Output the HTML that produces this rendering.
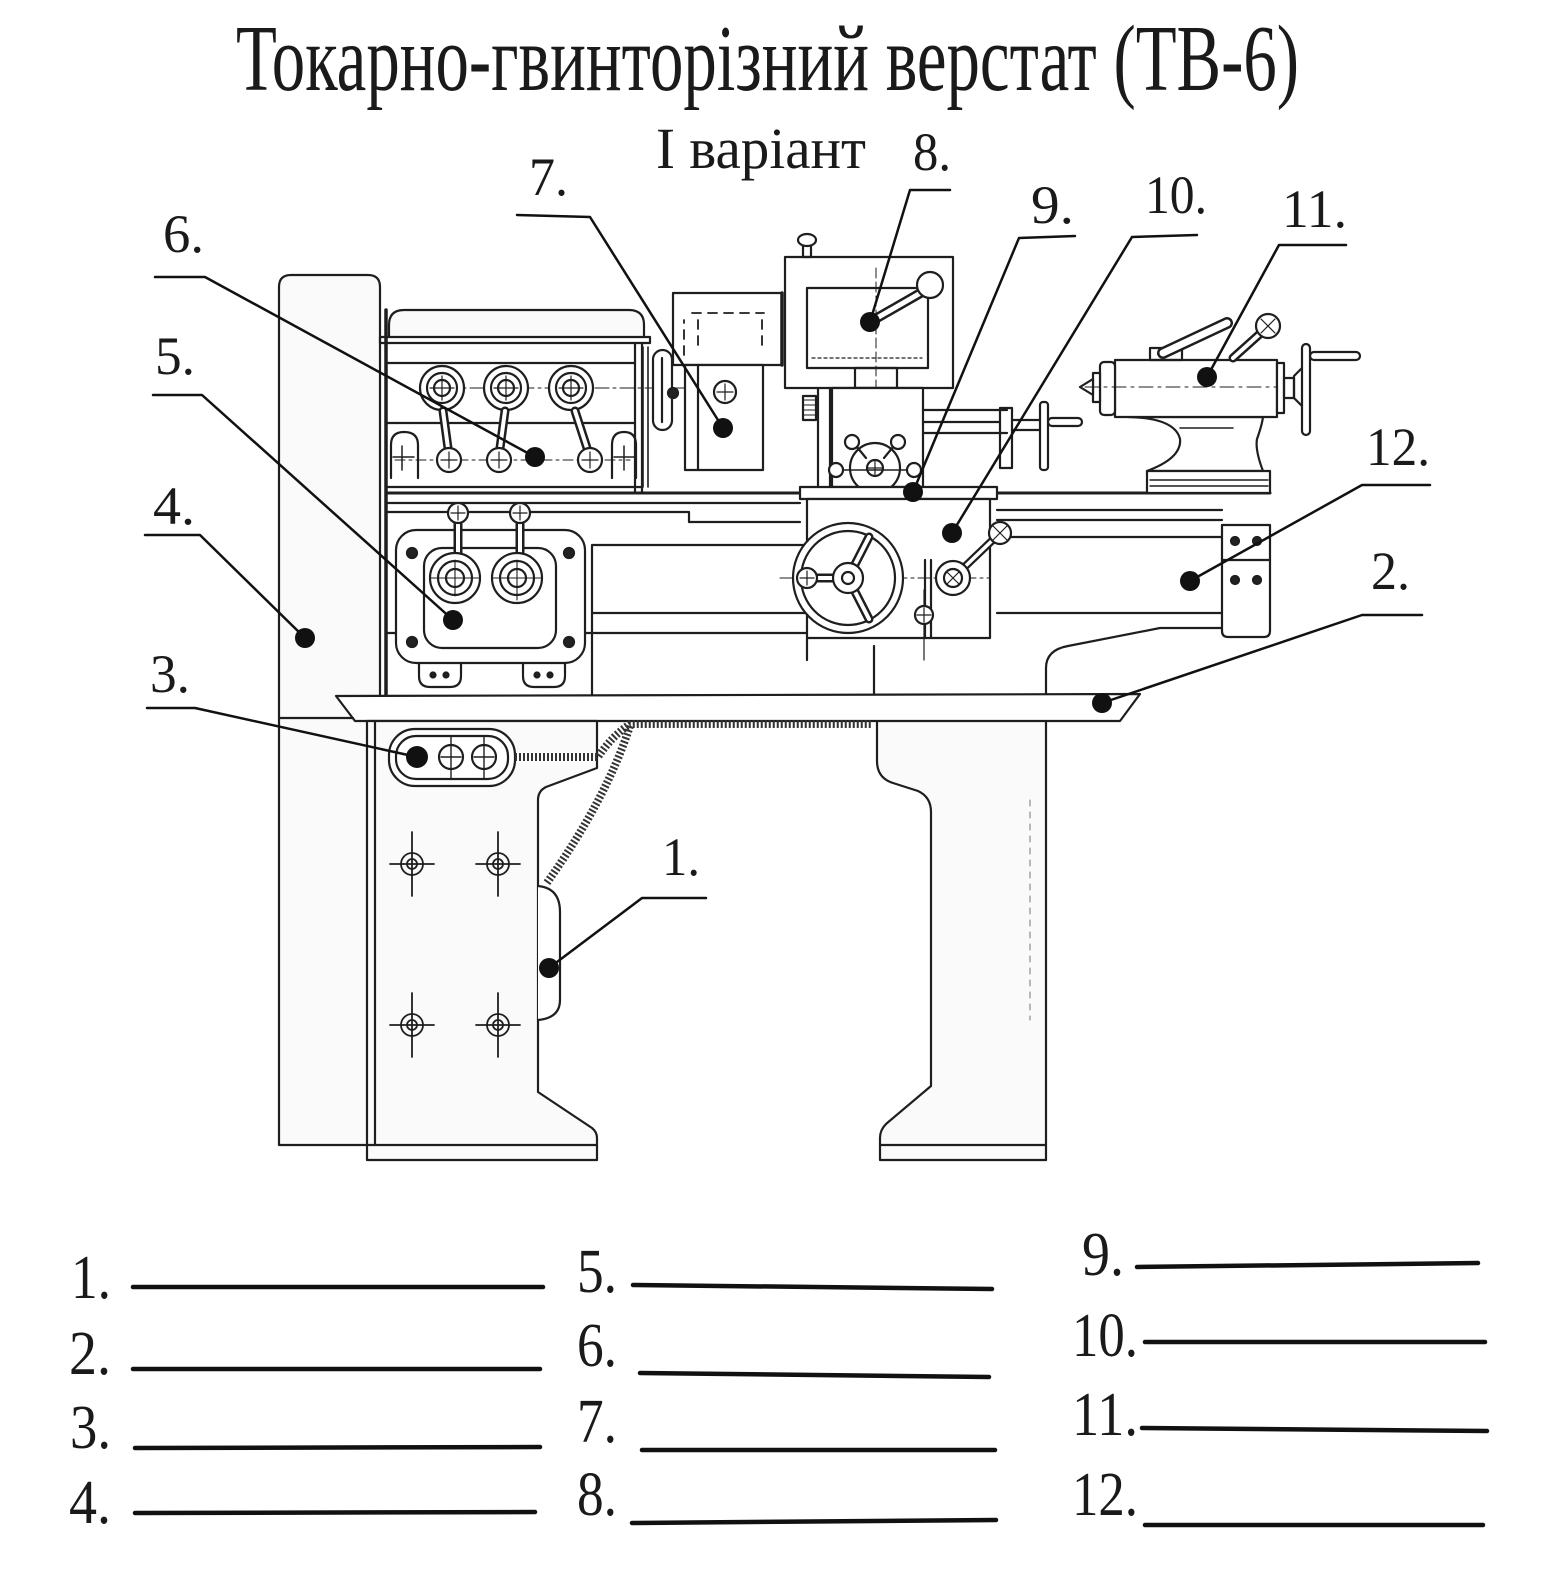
<!DOCTYPE html>
<html><head><meta charset="utf-8"><style>
html,body{margin:0;padding:0;background:#fff;overflow:hidden}
svg{display:block}
text{font-family:"Liberation Serif","DejaVu Serif",serif;fill:#1a1a1a}
</style></head><body>
<svg xmlns="http://www.w3.org/2000/svg" width="1543" height="1588" viewBox="0 0 1543 1588">
<rect width="1543" height="1588" fill="#fff"/>

<!-- Titles -->
<text x="236" y="90" font-size="94" textLength="1063" lengthAdjust="spacingAndGlyphs">Токарно-гвинторізний верстат (ТВ-6)</text>
<text x="656" y="168" font-size="58" textLength="210" lengthAdjust="spacingAndGlyphs">І варіант</text>

<!-- Diagram labels -->
<g font-size="54">
<text x="913" y="170" textLength="38" lengthAdjust="spacingAndGlyphs">8.</text>
<text x="529" y="195" textLength="39" lengthAdjust="spacingAndGlyphs">7.</text>
<text x="163" y="252" textLength="41" lengthAdjust="spacingAndGlyphs">6.</text>
<text x="1031" y="223" textLength="43" lengthAdjust="spacingAndGlyphs">9.</text>
<text x="1145" y="213" textLength="62" lengthAdjust="spacingAndGlyphs">10.</text>
<text x="1282" y="227" textLength="65" lengthAdjust="spacingAndGlyphs">11.</text>
<text x="155" y="374" textLength="40" lengthAdjust="spacingAndGlyphs">5.</text>
<text x="153" y="524" textLength="42" lengthAdjust="spacingAndGlyphs">4.</text>
<text x="1366" y="465" textLength="64" lengthAdjust="spacingAndGlyphs">12.</text>
<text x="1371" y="589" textLength="39" lengthAdjust="spacingAndGlyphs">2.</text>
<text x="150" y="692" textLength="40" lengthAdjust="spacingAndGlyphs">3.</text>
<text x="662" y="875" textLength="38" lengthAdjust="spacingAndGlyphs">1.</text>
</g>

<!-- Machine drawing -->
<g fill="none" stroke="#1e1e1e" stroke-width="2.2" stroke-linejoin="round" stroke-linecap="round">
  <!-- left pillar -->
  <path d="M279,1145 V287 Q279,275 291,275 H368 Q380,275 380,287 V1145 Z" fill="#fafafa"/>
  <path d="M386,310 V696" stroke-width="3.5"/>

  <!-- headstock -->
  <path d="M389,337 V325 Q389,310 404,310 H629 Q644,310 644,325 V337" fill="#fafafa"/>
  <rect x="380" y="337" width="270" height="6"/>
  <path d="M642,343 V493 M635,343 V493"/>
  <path d="M643,347 V487 M648,347 V487" stroke-width="1.6"/>
  <path d="M386,363 H635 M386,423 H635 M386,487 H642"/>
  <path d="M420,388 H745" stroke-width="1" stroke-dasharray="14 4 3 4"/>
  <path d="M395,460 H630" stroke-width="1" stroke-dasharray="10 4 3 4"/>
  <!-- top dials -->
  <g>
    <circle cx="442" cy="388" r="22" fill="#fff"/><circle cx="442" cy="388" r="15"/><circle cx="442" cy="388" r="8"/>
    <path d="M430,388 H454 M442,376 V400" stroke-width="1.2"/>
    <circle cx="506" cy="388" r="22" fill="#fff"/><circle cx="506" cy="388" r="15"/><circle cx="506" cy="388" r="8"/>
    <path d="M494,388 H518 M506,376 V400" stroke-width="1.2"/>
    <circle cx="571" cy="388" r="22" fill="#fff"/><circle cx="571" cy="388" r="15"/><circle cx="571" cy="388" r="8"/>
    <path d="M559,388 H583 M571,376 V400" stroke-width="1.2"/>
  </g>
  <!-- levers -->
  <g>
    <path d="M443,411 L448,448" stroke-width="9"/><path d="M443,411 L448,448" stroke="#fff" stroke-width="4"/>
    <path d="M505,411 L500,448" stroke-width="9"/><path d="M505,411 L500,448" stroke="#fff" stroke-width="4"/>
    <path d="M575,411 L587,448" stroke-width="9"/><path d="M575,411 L587,448" stroke="#fff" stroke-width="4"/>
    <circle cx="449" cy="460" r="12" fill="#fff"/><path d="M441,460 H457 M449,452 V468" stroke-width="1.2"/>
    <circle cx="499" cy="460" r="12" fill="#fff"/><path d="M491,460 H507 M499,452 V468" stroke-width="1.2"/>
    <circle cx="590" cy="460" r="12" fill="#fff"/><path d="M582,460 H598 M590,452 V468" stroke-width="1.2"/>
  </g>
  <path d="M391,478 V445 Q391,432 404,432 Q418,432 418,445 V478"/>
  <path d="M393,457 H414 M402,446 V470" stroke-width="1.5"/>
  <path d="M612,478 V445 Q612,432 624,432 Q636,432 636,445 V478"/>
  <path d="M614,457 H634 M624,446 V470" stroke-width="1.5"/>

  <!-- gear guard (7) -->
  <rect x="673" y="293" width="109" height="72" fill="#fff"/>
  <path d="M782,293 V365" stroke-width="3.5"/>
  <rect x="685" y="365" width="78" height="105" fill="#fff"/>
  <path d="M698,365 V470"/>
  <path d="M684,355 V320 M698,345 V320 M692,313 H764 M762,320 V345" stroke-width="1.8" stroke-dasharray="9 7"/>
  <circle cx="725" cy="392" r="11" fill="#fff"/><path d="M717,392 H733 M725,384 V400" stroke-width="1.2"/>
  <rect x="653" y="350" width="19" height="80" rx="9.5" fill="#fff"/>
  <path d="M662,358 V422"/>
  <circle cx="673" cy="393" r="5" fill="#222"/>

  <!-- bed -->
  <path d="M386,493 H1270" stroke-width="3"/>
  <path d="M386,503 H800 M386,512 H689 V522 H800"/>
  <path d="M592,545 H807 M592,613 H807 M386,633 H807 M592,545 V696"/>
  <path d="M997,510 H1222 M997,520 H1222 M997,537 H1222 M997,613 H1222"/>

  <!-- quick change gearbox (5) -->
  <rect x="396" y="530" width="189" height="133" rx="20" fill="#fff"/>
  <rect x="424" y="548" width="132" height="100" rx="18"/>
  <circle cx="412" cy="553" r="5" fill="#222"/><circle cx="569" cy="553" r="5" fill="#222"/>
  <circle cx="412" cy="642" r="5" fill="#222"/><circle cx="569" cy="642" r="5" fill="#222"/>
  <path d="M458,523 V553" stroke-width="9"/><path d="M458,523 V553" stroke="#fff" stroke-width="4"/>
  <path d="M520,523 V553" stroke-width="9"/><path d="M520,523 V553" stroke="#fff" stroke-width="4"/>
  <circle cx="458" cy="513" r="10" fill="#fff"/><path d="M451,513 H465 M458,506 V520" stroke-width="1.2"/>
  <circle cx="520" cy="513" r="10" fill="#fff"/><path d="M513,513 H527 M520,506 V520" stroke-width="1.2"/>
  <circle cx="455" cy="578" r="25" fill="#fff"/><circle cx="455" cy="578" r="17"/><circle cx="455" cy="578" r="9"/>
  <path d="M430,578 H480 M455,560 V596" stroke-width="1.1"/>
  <circle cx="517" cy="578" r="25" fill="#fff"/><circle cx="517" cy="578" r="17"/><circle cx="517" cy="578" r="9"/>
  <path d="M492,578 H542 M517,560 V600" stroke-width="1.1"/>
  <path d="M419,663 V676 Q419,687 430,687 H450 Q461,687 461,676 V663"/>
  <path d="M523,663 V676 Q523,687 534,687 H554 Q565,687 565,676 V663"/>
  <circle cx="433" cy="675" r="2.5" fill="#222"/><circle cx="446" cy="675" r="2.5" fill="#222"/>
  <circle cx="537" cy="675" r="2.5" fill="#222"/><circle cx="550" cy="675" r="2.5" fill="#222"/>

  <!-- top slide box (8) -->
  <rect x="785" y="257" width="168" height="131" fill="#fff"/>
  <rect x="807" y="288" width="121" height="80"/>
  <path d="M876,268 V388" stroke-width="1" stroke-dasharray="10 4"/>
  <path d="M812,358 H922" stroke-width="1.2" stroke-dasharray="3 3"/>
  <rect x="855" y="368" width="42" height="20"/>
  <rect x="803" y="244" width="8" height="13"/>
  <ellipse cx="807" cy="240" rx="9" ry="6" fill="#fff"/>
  <path d="M870,322 L924,291" stroke-width="10"/><path d="M870,322 L924,291" stroke="#fff" stroke-width="5"/>
  <circle cx="930" cy="285" r="13" fill="#fff"/>

  <!-- cross slide -->
  <rect x="832" y="388" width="91" height="99" fill="#fff"/>
  <path d="M818,388 V487 M830,388 V487"/>
  <path d="M923,410 H1007 M923,422 H1000 M923,433 H1007"/>
  <rect x="803" y="396" width="13" height="24"/>
  <path d="M804,400 H815 M804,405 H815 M804,410 H815 M804,415 H815" stroke-width="1"/>
  <rect x="1000" y="408" width="12" height="60"/>
  <path d="M1012,420 H1040 M1012,430 H1040"/>
  <rect x="1040" y="402" width="8" height="68" rx="3"/>
  <rect x="1048" y="418" width="34" height="8" rx="4"/>
  <circle cx="875" cy="468" r="25" fill="#fff"/>
  <circle cx="875" cy="468" r="8"/><path d="M867,468 H883 M875,460 V476" stroke-width="1.2"/>
  <path d="M843,470 H907" stroke-width="1.5"/>
  <circle cx="836" cy="470" r="7" fill="#fff"/><circle cx="914" cy="470" r="7" fill="#fff"/>
  <circle cx="852" cy="442" r="7" fill="#fff"/><circle cx="898" cy="442" r="7" fill="#fff"/>
  <path d="M857,447 L866,458 M893,447 L884,458"/>

  <!-- saddle / apron -->
  <rect x="800" y="487" width="197" height="12" fill="#fff"/>
  <rect x="807" y="499" width="183" height="139" fill="#fff"/>
  <path d="M925,560 V638 M931,560 V638"/>
  <path d="M780,578 H990" stroke-width="1" stroke-dasharray="12 4 3 4"/>
  <circle cx="848" cy="578" r="55" fill="#fff"/>
  <circle cx="848" cy="578" r="47"/>
  <path d="M848,578 L869,537 M848,578 L869,619 M848,578 L807,578" stroke-width="9"/>
  <path d="M848,578 L869,537 M848,578 L869,619 M848,578 L807,578" stroke="#fff" stroke-width="4"/>
  <circle cx="848" cy="578" r="15" fill="#fff"/><circle cx="848" cy="578" r="6"/>
  <circle cx="807" cy="578" r="10" fill="#fff"/><path d="M800,578 H814 M807,571 V585" stroke-width="1.2"/>
  <path d="M953,578 L1000,533" stroke-width="8"/><path d="M953,578 L1000,533" stroke="#fff" stroke-width="3.5"/>
  <circle cx="953" cy="578" r="17" fill="#fff"/><circle cx="953" cy="578" r="9"/>
  <path d="M947,572 L959,584 M959,572 L947,584" stroke-width="1.2"/>
  <circle cx="1000" cy="533" r="11" fill="#fff"/><path d="M993,526 L1007,540 M1007,526 L993,540" stroke-width="1.2"/>
  <path d="M924,590 V660" stroke-width="1.2"/>
  <circle cx="924" cy="615" r="9" fill="#fff"/><path d="M917,615 H931 M924,608 V622" stroke-width="1.2"/>

  <!-- tailstock (11) -->
  <path d="M1128,417 Q1175,418 1180,439 Q1182,458 1147,471 H1263 Q1255,450 1257,439 Q1262,425 1263,417 Z" fill="#fff"/>
  <rect x="1147" y="471" width="123" height="22" fill="#fff"/>
  <path d="M1150,480 H1268 M1150,486 H1268" stroke-width="1.4"/>
  <rect x="1115" y="360" width="162" height="57" fill="#fff"/>
  <rect x="1100" y="362" width="15" height="53" rx="4" fill="#fff"/>
  <rect x="1093" y="373" width="7" height="29" fill="#fff"/>
  <path d="M1080,387 L1093,379 V395 Z" fill="#fff"/>
  <path d="M1085,387 H1277" stroke-width="1" stroke-dasharray="14 5 3 5"/>
  <path d="M1180,428 H1233" stroke-width="1.6"/>
  <rect x="1277" y="363" width="7" height="50" fill="#fff"/>
  <rect x="1284" y="378" width="10" height="20"/>
  <path d="M1294,376 L1304,366 V408 L1294,398 Z"/>
  <rect x="1302" y="344" width="8" height="91" rx="4" fill="#fff"/>
  <rect x="1310" y="352" width="50" height="8" rx="4"/>
  <rect x="1150" y="348" width="32" height="12"/>
  <path d="M1163,353 L1227,323" stroke-width="12"/><path d="M1163,353 L1227,323" stroke="#fff" stroke-width="7"/>
  <path d="M1233,358 L1262,332" stroke-width="9"/><path d="M1233,358 L1262,332" stroke="#fff" stroke-width="4"/>
  <circle cx="1268" cy="326" r="12" fill="#fff"/><path d="M1261,319 L1275,333 M1275,319 L1261,333" stroke-width="1.2"/>

  <!-- bed end block -->
  <path d="M1222,525 H1270 V631 Q1270,637 1264,637 H1228 Q1222,637 1222,631 Z" fill="#fff"/>
  <path d="M1222,560 H1270"/>
  <circle cx="1235" cy="541" r="4" fill="#222"/><circle cx="1257" cy="541" r="4" fill="#222"/>
  <circle cx="1235" cy="580" r="4" fill="#222"/><circle cx="1257" cy="580" r="4" fill="#222"/>

  <!-- right leg shoulder / pedestal -->
  <path d="M877,721 V761 Q877,778 893,783 L918,791 Q931,797 931,812 V1086 L886,1124 Q880,1130 880,1138 V1160 H1046 V721 Z" fill="#fafafa" stroke="none"/>
  <path d="M1046,1160 V668 Q1046,650 1068,646 L1160,628 H1222"/>
  <path d="M874,646 V696 M807,638 V660"/>
  <path d="M877,721 V761 Q877,778 893,783 L918,791 Q931,797 931,812 V1086 L886,1124 Q880,1130 880,1138 V1160 H1046"/>
  <path d="M880,1145 H1046"/>
  <path d="M1030,800 V1020" stroke-width="1" stroke="#777" stroke-dasharray="6 6"/>

  <!-- chip pan -->
  <path d="M336,696 L1140,694 L1120,721 L355,721 Z" fill="#fff"/>
  <path d="M279,718 H353"/>

  <!-- left pedestal -->
  <path d="M597,721 V768 L546,787 Q538,791 538,800 V1092 L592,1128 Q597,1132 597,1138 V1160 H367 V721 Z" fill="#fafafa"/>
  <path d="M375,721 V1145 M367,1145 H597"/>
  <path d="M538,886 Q560,888 560,912 V1000 Q560,1018 538,1020" fill="#fff"/>
  <!-- crosshairs -->
  <g stroke-width="1.8">
    <circle cx="412" cy="864" r="11"/><circle cx="412" cy="864" r="5"/><path d="M390,864 H434 M412,832 V896"/>
    <circle cx="498" cy="864" r="11"/><circle cx="498" cy="864" r="5"/><path d="M476,864 H520 M498,832 V896"/>
    <circle cx="412" cy="1025" r="11"/><circle cx="412" cy="1025" r="5"/><path d="M390,1025 H434 M412,993 V1057"/>
    <circle cx="498" cy="1025" r="11"/><circle cx="498" cy="1025" r="5"/><path d="M476,1025 H520 M498,993 V1057"/>
  </g>
  <!-- control box (3) -->
  <rect x="389" y="729" width="126" height="57" rx="26" fill="#fff"/>
  <rect x="396" y="736" width="112" height="43" rx="20"/>
  <circle cx="451" cy="757" r="12"/><path d="M441,757 H461 M451,737 V779" stroke-width="1.4"/>
  <circle cx="484" cy="757" r="12"/><path d="M474,757 H494 M484,737 V779" stroke-width="1.4"/>
  <!-- hoses -->
  <path d="M515,757 H598 Q612,736 630,724 H872" stroke="#333" stroke-width="8" stroke-dasharray="2 2" stroke-linecap="butt"/>
  <path d="M630,726 Q606,800 546,884" stroke="#333" stroke-width="8" stroke-dasharray="2 2" stroke-linecap="butt"/>
</g>

<!-- dots -->
<g fill="#111">
  <circle cx="549" cy="968" r="10"/>
  <circle cx="1102" cy="703" r="10"/>
  <circle cx="417" cy="757" r="11"/>
  <circle cx="305" cy="638" r="10"/>
  <circle cx="453" cy="620" r="10"/>
  <circle cx="535" cy="457" r="10"/>
  <circle cx="723" cy="428" r="10"/>
  <circle cx="870" cy="322" r="10"/>
  <circle cx="913" cy="492" r="10"/>
  <circle cx="952" cy="533" r="10"/>
  <circle cx="1207" cy="377" r="10"/>
  <circle cx="1190" cy="581" r="10"/>
</g>

<!-- leader lines -->
<g fill="none" stroke="#111" stroke-width="2.5" stroke-linejoin="round" stroke-linecap="round">
  <path d="M517,215 L590,217 L723,428"/>
  <path d="M950,190 L910,190 L870,322"/>
  <path d="M1075,236 L1019,238 L913,492"/>
  <path d="M1197,235 L1132,237 L952,533"/>
  <path d="M1346,245 L1279,245 L1207,377"/>
  <path d="M155,277 L205,277 L535,457"/>
  <path d="M153,395 L202,395 L453,620"/>
  <path d="M145,535 L200,535 L305,638"/>
  <path d="M147,708 L195,708 L417,757"/>
  <path d="M1430,485 L1362,485 L1190,581"/>
  <path d="M1422,615 L1362,615 L1102,703"/>
  <path d="M706,898 L642,898 L549,968"/>
</g>

<!-- answer list -->
<g font-size="62">
  <text x="71" y="1298" textLength="40" lengthAdjust="spacingAndGlyphs">1.</text>
  <text x="69" y="1374" textLength="42" lengthAdjust="spacingAndGlyphs">2.</text>
  <text x="70" y="1448" textLength="41" lengthAdjust="spacingAndGlyphs">3.</text>
  <text x="69" y="1523" textLength="42" lengthAdjust="spacingAndGlyphs">4.</text>
  <text x="577" y="1292" textLength="40" lengthAdjust="spacingAndGlyphs">5.</text>
  <text x="577" y="1366" textLength="40" lengthAdjust="spacingAndGlyphs">6.</text>
  <text x="577" y="1442" textLength="40" lengthAdjust="spacingAndGlyphs">7.</text>
  <text x="577" y="1515" textLength="40" lengthAdjust="spacingAndGlyphs">8.</text>
  <text x="1082" y="1275" textLength="42" lengthAdjust="spacingAndGlyphs">9.</text>
  <text x="1072" y="1356" textLength="66" lengthAdjust="spacingAndGlyphs">10.</text>
  <text x="1072" y="1435" textLength="66" lengthAdjust="spacingAndGlyphs">11.</text>
  <text x="1072" y="1515" textLength="66" lengthAdjust="spacingAndGlyphs">12.</text>
</g>
<g stroke="#111" stroke-width="4.5" stroke-linecap="round">
  <line x1="133" y1="1287" x2="543" y2="1287"/>
  <line x1="133" y1="1369" x2="540" y2="1369"/>
  <line x1="135" y1="1448" x2="540" y2="1447"/>
  <line x1="135" y1="1513" x2="535" y2="1512"/>
  <line x1="633" y1="1285" x2="992" y2="1289"/>
  <line x1="640" y1="1373" x2="989" y2="1377"/>
  <line x1="642" y1="1450" x2="995" y2="1450"/>
  <line x1="632" y1="1523" x2="996" y2="1520"/>
  <line x1="1137" y1="1267" x2="1478" y2="1263"/>
  <line x1="1145" y1="1342" x2="1485" y2="1342"/>
  <line x1="1142" y1="1428" x2="1487" y2="1431"/>
  <line x1="1145" y1="1525" x2="1483" y2="1525"/>
</g>
</svg>
</body></html>
